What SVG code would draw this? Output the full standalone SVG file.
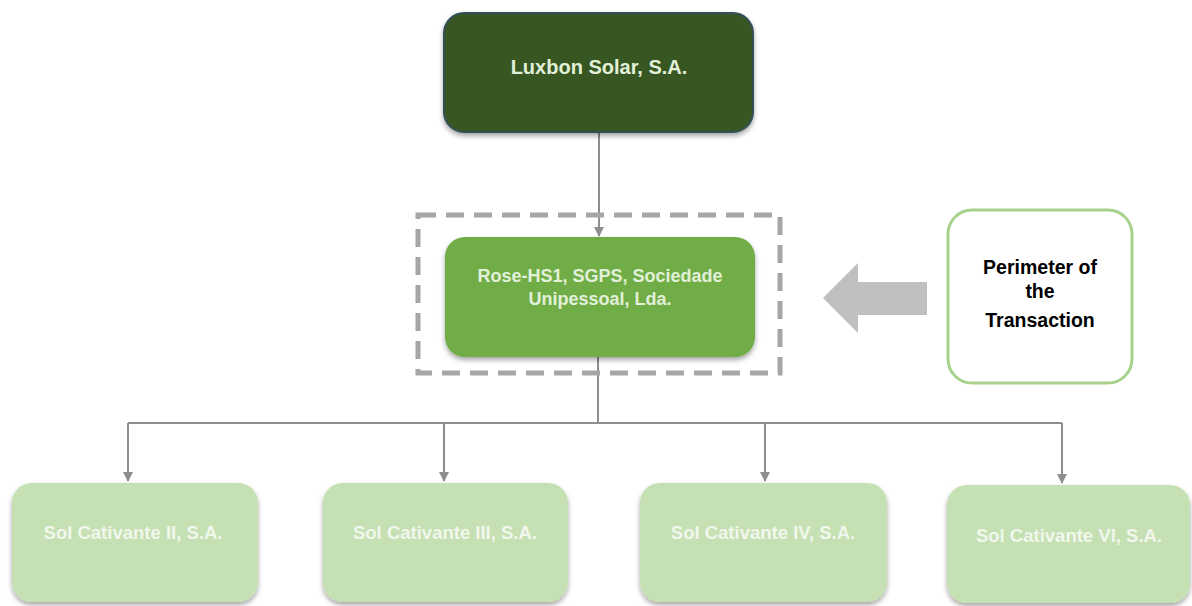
<svg xmlns="http://www.w3.org/2000/svg" width="1192" height="606" viewBox="0 0 1192 606">
<style>
.t{font-family:"Liberation Sans",Arial,sans-serif;font-weight:bold;font-size:18.5px;text-anchor:middle}
.lt{fill:#E2F0D9}
.bt{fill:#F1F7EC}
.sub{fill:#C5E0B3}
.conn{fill:none;stroke:#8E8E8E;stroke-width:2}
</style>
<defs>
<filter id="sh" x="-10%" y="-10%" width="120%" height="130%">
<feDropShadow dx="0" dy="3" stdDeviation="2.5" flood-color="#000" flood-opacity="0.35"/>
</filter>
<marker id="ah" markerWidth="10" markerHeight="10" refX="9" refY="5" orient="auto" markerUnits="userSpaceOnUse">
<path d="M0,0 L10,5 L0,10 Z" fill="#8E8E8E"/>
</marker>
</defs>
<rect width="1192" height="606" fill="#fff"/>
<g id="connectors">
<path class="conn" d="M599,132 V236" marker-end="url(#ah)"/>
<path class="conn" d="M598,357 V423"/>
<path class="conn" d="M128,423 H1062"/>
<path class="conn" d="M128,423 V481" marker-end="url(#ah)"/>
<path class="conn" d="M444,423 V481" marker-end="url(#ah)"/>
<path class="conn" d="M765,423 V481" marker-end="url(#ah)"/>
<path class="conn" d="M1062,423 V483" marker-end="url(#ah)"/>
</g>
<g id="perimeter-box">
<rect x="418" y="215" width="362" height="158" fill="none" stroke="#A6A6A6" stroke-width="5" stroke-dasharray="18,10"/>
</g>
<g id="perimeter-arrow">
<path d="M823,298 L858,263 L858,282 L927,282 L927,315 L858,315 L858,333 Z" fill="#BFBFBF"/>
</g>
<g id="luxbon">
<rect x="444" y="13" width="309" height="119" rx="20" fill="#375623" stroke="#33505A" stroke-width="2" filter="url(#sh)"/>
<text class="t lt" x="599" y="74" style="font-size:20px">Luxbon Solar, S.A.</text>
</g>
<g id="rose">
<rect x="445" y="237" width="310" height="120" rx="20" fill="#70AD47" filter="url(#sh)"/>
<text class="t lt" x="600" y="282" style="font-size:18px">Rose-HS1, SGPS, Sociedade</text>
<text class="t lt" x="600" y="305" style="font-size:18px">Unipessoal, Lda.</text>
</g>
<g id="perimeter-label">
<rect x="948" y="210" width="184" height="173" rx="24" fill="#fff" stroke="#A9D18E" stroke-width="3"/>
<text class="t" x="1040" y="274" fill="#000" style="font-size:19.5px">Perimeter of</text>
<text class="t" x="1040" y="298" fill="#000" style="font-size:19.5px">the</text>
<text class="t" x="1040" y="327" fill="#000" style="font-size:19.5px">Transaction</text>
</g>
<g id="sol2">
<rect class="sub" x="12" y="483" width="246" height="119" rx="20" filter="url(#sh)"/>
<text class="t bt" x="133" y="539">Sol Cativante II, S.A.</text>
</g>
<g id="sol3">
<rect class="sub" x="323" y="483" width="245" height="119" rx="20" filter="url(#sh)"/>
<text class="t bt" x="445" y="539">Sol Cativante III, S.A.</text>
</g>
<g id="sol4">
<rect class="sub" x="640" y="483" width="247" height="119" rx="20" filter="url(#sh)"/>
<text class="t bt" x="763" y="539">Sol Cativante IV, S.A.</text>
</g>
<g id="sol6">
<rect class="sub" x="947" y="485" width="243" height="118" rx="20" filter="url(#sh)"/>
<text class="t bt" x="1069" y="542">Sol Cativante VI, S.A.</text>
</g>
</svg>
